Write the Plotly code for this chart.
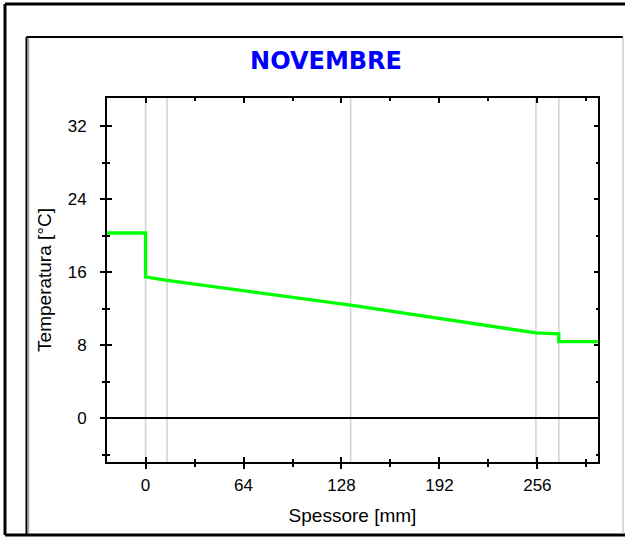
import plotly.graph_objects as go

# Temperature profile across the wall section for November
position_mm = [-25.2, 0, 0, 14, 134, 255, 270, 270, 295.6]
temperature_c = [20.3, 20.3, 15.5, 15.1, 12.4, 9.35, 9.25, 8.4, 8.4]

# Interfaces between the wall layers
layer_bounds_mm = [0, 14, 134, 255, 270]

x_range = [-25.2, 295.6]
y_range = [-4.8, 35.1]
x_major, x_minor = 64, 32
y_major, y_minor = 8, 4

chart_title = "NOVEMBRE"
x_title = "Spessore [mm]"
y_title = "Temperatura [°C]"

W, H = 625, 537
L, R, T, B = 107, 598, 98, 462   # plot area in pixels


def px(x):
    return (x - L) / (R - L)


def py(y):
    return (B - y) / (B - T)


tick_font = dict(family="Liberation Sans, Arial, sans-serif", size=17, color="black")
title_font = dict(family="Liberation Sans, Arial, sans-serif", size=19, color="black")

fig = go.Figure()

fig.add_trace(go.Scatter(
    x=position_mm, y=temperature_c, mode="lines",
    line=dict(color="#00ff00", width=3.3),
    hoverinfo="skip", showlegend=False,
))
# empty traces that carry the inner tick marks (bottom/left and top/right)
fig.add_trace(go.Scatter(x=[None], y=[None], xaxis="x2", yaxis="y2",
                         showlegend=False, hoverinfo="skip"))
fig.add_trace(go.Scatter(x=[None], y=[None], xaxis="x3", yaxis="y3",
                         showlegend=False, hoverinfo="skip"))

shapes = []
for xb in layer_bounds_mm:
    shapes.append(dict(type="line", xref="x", yref="paper", x0=xb, x1=xb, y0=0, y1=1,
                       line=dict(color="#d4d4d4", width=1.6), layer="below"))


def frame_line(x0, y0, x1, y1, color, width):
    return dict(type="line", xref="paper", yref="paper",
                x0=px(x0), x1=px(x1), y0=py(y0), y1=py(y1),
                line=dict(color=color, width=width))


# outer frame (open on the right) and inner panel
shapes += [
    frame_line(5, 4, W, 4, "black", 3),
    frame_line(5, 4, 5, 535, "black", 3),
    frame_line(5, 535, W, 535, "black", 3),
    frame_line(26.5, 37, 26.5, 534, "black", 2),
    frame_line(28.5, 38, 28.5, 533, "#a8a8a8", 1.5),
    frame_line(26.5, 37, 623, 37, "black", 2),
    frame_line(623, 37, 623, 534, "#b4b4b4", 1),
]

common_x = dict(range=x_range, tick0=0, dtick=x_major, showgrid=False, zeroline=False)
common_y = dict(range=y_range, tick0=0, dtick=y_major, showgrid=False)

fig.update_layout(
    width=W, height=H,
    margin=dict(l=L, r=W - R, t=T, b=H - B, pad=0),
    paper_bgcolor="white", plot_bgcolor="white",
    title=dict(text=chart_title, x=326 / W, y=1 - 61 / H, xref="container", yref="container",
               xanchor="center", yanchor="middle",
               font=dict(family="DejaVu Sans, sans-serif", size=24, color="#0000ff", weight="bold")),
    xaxis=dict(**common_x, ticks="outside", ticklen=5, tickwidth=2, tickcolor="black",
               minor=dict(dtick=x_minor, tick0=0, ticks="outside", ticklen=3, tickwidth=1.5,
                          tickcolor="black", showgrid=False),
               showline=True, linecolor="black", linewidth=2, mirror=True,
               tickfont=tick_font, ticklabelstandoff=2,
               title=dict(text=x_title, font=title_font, standoff=14)),
    yaxis=dict(**common_y, ticks="outside", ticklen=5, tickwidth=2, tickcolor="black",
               minor=dict(dtick=y_minor, tick0=0, ticks="outside", ticklen=3, tickwidth=1.5,
                          tickcolor="black", showgrid=False),
               showline=True, linecolor="black", linewidth=2, mirror=True,
               zeroline=True, zerolinecolor="black", zerolinewidth=2,
               tickfont=tick_font, ticklabelstandoff=10,
               title=dict(text=y_title, font=title_font, standoff=11)),
    xaxis2=dict(**common_x, overlaying="x", anchor="y2", side="bottom",
                ticks="inside", ticklen=5, tickwidth=2, tickcolor="black",
                minor=dict(dtick=x_minor, tick0=0, ticks="inside", ticklen=3, tickwidth=1.5,
                           tickcolor="black"),
                showticklabels=False, showline=False),
    yaxis2=dict(**common_y, overlaying="y", anchor="x2", side="left", zeroline=False,
                ticks="inside", ticklen=5, tickwidth=2, tickcolor="black",
                minor=dict(dtick=y_minor, tick0=0, ticks="inside", ticklen=3, tickwidth=1.5,
                           tickcolor="black"),
                showticklabels=False, showline=False),
    xaxis3=dict(**common_x, overlaying="x", anchor="y3", side="top",
                ticks="inside", ticklen=5, tickwidth=2, tickcolor="black",
                minor=dict(dtick=x_minor, tick0=0, ticks="inside", ticklen=3, tickwidth=1.5,
                           tickcolor="black"),
                showticklabels=False, showline=False),
    yaxis3=dict(**common_y, overlaying="y", anchor="x3", side="right", zeroline=False,
                ticks="inside", ticklen=4, tickwidth=2, tickcolor="black",
                minor=dict(dtick=y_minor, tick0=0, ticks="inside", ticklen=2.5, tickwidth=1.5,
                           tickcolor="black"),
                showticklabels=False, showline=False),
    shapes=shapes,
    showlegend=False,
)

fig.write_html("out.html", config={"displayModeBar": False})
